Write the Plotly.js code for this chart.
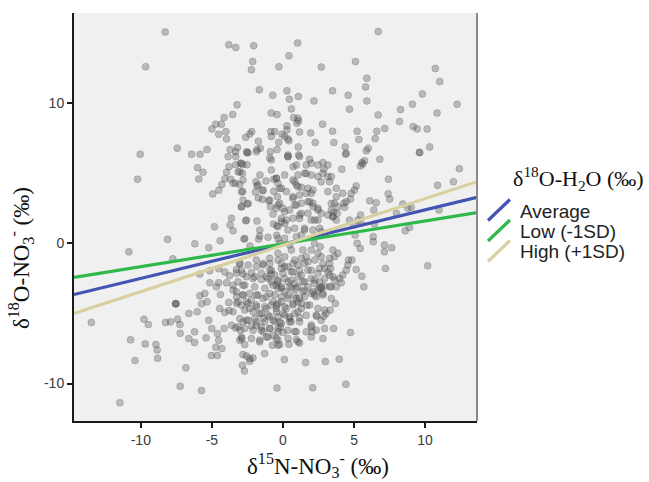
<!DOCTYPE html>
<html><head><meta charset="utf-8">
<script src="https://cdn.plot.ly/plotly-3.0.1.min.js"></script>
<style>html,body{margin:0;padding:0;background:#fff}</style>
</head><body><div id="chart" style="width:649px;height:482px"></div>
<script>
// d15N-NO3 (x), d18O-NO3 (y) observations, grouped by region of the plot
const ptsTopLeft = [[-8.29,15.07],[-9.66,12.6],[-3.81,14.16],[-3.32,13.97],[-2.06,14.1],[-2.13,12.97],[-2.22,12.38],[-0.28,12.6],[-1.66,10.95],[-0.72,10.57],[-3.23,9.88],[-3.53,9.19],[-4.14,8.97],[-0.82,9.29],[-0.42,9.19],[-4.73,8.5],[-4.33,8.5],[-5.0,8.16],[-4.02,7.97],[-4.52,7.78],[-2.2,7.97],[-2.34,7.8],[-2.62,7.57],[-3.97,7.45],[-0.86,7.97],[-0.82,7.62],[-1.73,7.29],[-7.44,6.79],[-10.04,6.36],[-6.43,6.36],[-5.83,6.36],[-5.34,6.69],[-3.72,6.69],[-3.2,6.83],[-3.34,6.54],[-2.55,6.54],[-1.83,6.69],[-1.59,6.79],[-0.42,6.69]];
const ptsTopRight = [[6.7,15.11],[1.03,14.29],[0.42,13.38],[2.7,12.57],[5.1,12.97],[10.72,12.47],[11.03,11.54],[5.9,11.78],[5.81,11.16],[0.28,10.88],[1.08,10.47],[0.45,10.28],[3.49,10.88],[4.59,10.57],[2.18,10.16],[5.9,10.16],[9.81,10.66],[12.25,9.93],[9.11,9.93],[10.84,9.29],[8.27,9.54],[4.68,9.57],[6.7,9.16],[0.59,9.59],[0.75,8.97],[1.05,8.93],[0.98,8.57],[1.1,8.74],[0.28,8.38],[0.28,8.09],[2.79,8.5],[8.2,8.69],[9.16,8.33],[9.44,8.16],[10.14,8.16],[7.16,8.19],[6.6,8.0],[5.22,8.0],[3.49,8.0],[1.95,7.88],[1.17,7.95],[-0.07,7.78],[0.12,7.62],[0.35,7.45],[-0.3,7.21],[0.42,7.31],[-0.58,7.97],[5.34,7.4],[6.49,7.47],[2.27,7.19],[3.58,7.19],[1.08,6.88],[4.38,6.88],[6.0,6.79],[10.32,6.88],[9.6,6.5],[4.45,6.43],[0.35,6.3],[1.1,6.3]];
const ptsMidLeft = [[-10.23,4.57],[-10.84,-0.6],[-8.12,0.29],[-7.75,-1.1],[-6.2,-0.03],[-5.22,-0.31],[-4.42,0.19],[-4.82,1.19],[-6.01,5.4],[-5.62,5.07],[-5.92,4.59],[-4.94,3.52],[-4.52,3.79],[-4.3,4.19],[-4.09,4.61],[-3.97,5.07],[-3.79,5.47],[-3.32,5.61],[-2.99,5.71],[-2.83,5.61],[-2.53,5.61],[-3.86,6.19],[-3.32,6.19],[-2.53,6.47],[-3.67,4.57],[-3.51,4.29],[-3.04,4.19],[-3.34,4.29],[-3.04,5.09],[-2.85,5.0],[-2.83,3.69],[-2.81,3.09],[-2.5,2.81],[-2.92,2.61],[-3.62,1.79],[-3.72,1.31],[-3.51,0.9],[-2.62,1.61],[-1.83,1.59],[-2.74,0.31],[-1.71,0.31],[-2.32,-0.19],[-1.64,0.52],[-1.05,0.43],[-1.94,3.66],[-1.43,3.76],[-1.73,3.24],[-1.45,3.14],[-1.83,4.09],[-1.19,4.45],[-0.65,3.71],[-1.0,3.04],[-0.88,2.61],[-0.46,2.5],[-0.7,2.09],[-0.67,1.38],[-0.42,1.26],[-0.44,0.57],[-0.81,5.95],[-0.93,6.09],[-0.65,4.57],[-1.62,4.88],[-1.9,4.4],[-1.86,6.54],[-0.89,6.54],[-5.85,-2.19],[-5.15,-1.95],[-4.52,-1.81],[-4.09,-2.05],[-3.76,-2.31],[-3.27,-2.14],[-2.81,-2.19],[-5.15,-2.81],[-4.52,-2.81],[-3.97,-2.81],[-3.51,-2.98],[-2.81,-2.98],[-2.22,-2.1],[-1.99,-2.38],[-1.52,-2.57],[-1.17,-2.38],[-0.82,-2.19],[-0.82,-2.74],[-0.46,-2.98],[-0.93,-1.91],[-1.87,-1.19],[-1.4,-1.55],[-0.93,-1.43],[-3.04,-1.43],[-3.27,-1.86]];
const ptsMidRight = [[4.4,6.36],[5.86,6.61],[9.62,6.47],[6.81,6.0],[5.55,5.76],[5.74,5.9],[5.44,5.52],[5.62,5.66],[4.14,5.29],[12.41,5.33],[7.42,4.57],[11.99,4.4],[10.88,4.14],[5.15,4.09],[5.03,3.81],[4.8,3.57],[4.75,3.16],[4.45,2.97],[4.28,2.86],[4.33,2.57],[7.4,3.54],[7.51,3.16],[6.11,3.04],[6.56,2.9],[6.39,2.38],[8.43,2.81],[7.98,2.14],[8.78,2.5],[9.02,2.57],[10.98,2.38],[3.86,2.61],[3.82,2.14],[3.56,2.21],[3.75,1.66],[3.51,1.9],[4.68,1.66],[5.27,1.66],[5.46,2.02],[4.96,1.31],[5.5,1.43],[6.44,1.38],[8.6,0.9],[8.9,1.14],[5.08,0.59],[5.22,0.0],[5.44,-0.36],[6.35,0.47],[6.35,0.12],[7.14,-0.12],[7.65,-0.31],[7.14,-0.6],[7.21,-1.79],[10.18,-1.6],[5.15,-1.86],[5.55,-2.34],[5.69,-3.1],[4.61,-1.19],[4.85,-1.19],[4.56,-1.55],[4.45,-1.91],[4.21,-2.26],[3.98,-2.5],[4.1,-2.81],[3.63,-2.62],[3.75,-3.1],[2.93,-3.05],[2.58,-2.74],[3.28,-1.43],[3.35,-1.79],[3.86,-0.71],[3.63,-0.95],[3.51,-0.48],[2.62,-0.24],[2.46,-0.71],[2.69,-0.95],[1.99,-0.48],[2.22,0.0],[1.64,-0.95],[1.4,-0.48],[0.35,6.19],[1.17,6.19],[1.87,6.0],[0.94,5.59],[1.64,5.59],[2.46,5.59],[2.81,5.76],[2.88,5.29],[2.81,5.0],[3.16,4.76],[3.28,4.4],[2.46,4.76],[1.99,4.88],[1.52,5.0],[1.05,4.88],[0.7,4.52],[0.94,4.16],[1.29,4.0],[1.76,3.93],[2.11,3.81],[1.64,3.57],[1.17,3.45],[0.7,3.33],[0.24,3.69],[-0.11,3.93],[-0.35,4.29],[-0.46,4.64],[0.12,4.88],[3.16,3.69],[3.75,3.93],[3.75,3.33],[4.21,3.57],[3.63,2.86],[3.4,2.38],[3.16,2.02],[2.7,2.14],[2.46,2.5],[2.11,2.86],[1.76,2.97],[1.29,2.86],[0.82,2.74],[0.47,2.38],[0.0,2.5],[-0.23,2.86],[-0.39,3.33],[1.76,2.14],[1.17,2.02],[0.7,1.79],[0.24,1.66],[-0.11,1.54],[1.99,1.66],[2.46,1.66],[2.11,0.95],[1.52,0.95],[0.82,1.07],[0.35,0.95],[-0.35,1.19],[2.58,1.07],[2.93,0.71],[0.94,0.47],[0.12,0.36],[-0.23,0.0],[0.47,-0.12],[-0.35,-0.71],[0.12,-0.95],[0.59,-0.48],[0.82,-1.19],[-0.11,-1.43],[0.35,-1.67],[1.05,-1.55],[1.52,-1.43],[1.76,-1.91],[1.29,-2.26],[0.7,-2.02],[0.0,-2.14],[-0.35,-2.62],[0.35,-2.74],[0.82,-2.86],[1.4,-2.74],[1.99,-2.5],[2.22,-2.86],[2.46,-2.14],[2.93,-1.79],[3.28,-2.26],[2.7,-3.1],[1.76,-3.1],[1.05,-3.1],[-0.11,-3.1]];
const ptsLowLeft = [[-13.48,-5.64],[-9.78,-5.41],[-9.47,-5.79],[-10.72,-6.88],[-10.41,-8.36],[-9.69,-7.17],[-8.94,-7.21],[-8.85,-7.6],[-8.82,-8.19],[-11.47,-11.36],[-8.26,-5.64],[-7.91,-5.6],[-7.42,-5.41],[-7.25,-5.79],[-7.23,-6.41],[-6.62,-5.0],[-6.04,-4.88],[-6.62,-6.79],[-6.22,-6.31],[-6.22,-7.07],[-6.83,-8.88],[-7.23,-10.19],[-5.73,-10.5],[-5.85,-3.74],[-5.5,-3.57],[-5.73,-4.31],[-5.34,-4.17],[-5.22,-5.48],[-5.01,-6.07],[-5.41,-6.74],[-4.61,-6.43],[-4.52,-6.91],[-4.73,-7.41],[-4.3,-7.5],[-5.03,-8.0],[-4.61,-8.0],[-4.14,-6.07],[-4.45,-4.64],[-4.09,-4.93],[-3.79,-4.79],[-3.51,-4.88],[-4.4,-3.64],[-3.81,-4.21],[-3.27,-3.81],[-2.81,-3.69],[-3.51,-3.33],[-4.68,-3.1],[-3.62,-5.84],[-3.34,-6.03],[-2.99,-6.19],[-2.81,-5.6],[-2.57,-5.48],[-2.22,-5.89],[-1.87,-5.84],[-1.52,-5.96],[-3.04,-6.91],[-2.69,-7.21],[-2.9,-6.79],[-1.64,-7.03],[-1.29,-7.86],[-2.81,-7.93],[-2.57,-8.03],[-2.34,-8.21],[-2.11,-8.17],[-2.34,-8.41],[-2.85,-8.69],[-2.71,-9.1],[-0.74,-7.26],[-0.42,-10.31],[-2.57,-4.17],[-2.22,-4.05],[-1.87,-3.69],[-1.4,-3.93],[-0.93,-3.57],[-0.7,-4.17],[-0.46,-4.64],[-1.17,-4.64],[-1.64,-5.0],[-1.99,-5.36],[-1.4,-5.36],[-0.93,-5.24],[-0.58,-5.6],[-0.93,-6.07],[-1.4,-6.31],[-1.17,-6.67],[-0.7,-6.55],[-0.35,-6.07],[-2.34,-4.64],[-2.92,-4.41],[-3.27,-4.29],[-1.87,-4.53],[-0.46,-6.79],[-0.35,-7.26]];
const ptsLowRight = [[3.4,-3.1],[2.7,-3.21],[2.46,-3.33],[1.99,-3.57],[2.34,-3.81],[2.81,-3.57],[1.4,-3.45],[3.68,-4.29],[2.93,-4.76],[3.33,-4.76],[2.88,-5.19],[2.37,-5.19],[1.69,-4.41],[1.17,-5.31],[0.59,-5.6],[1.99,-5.96],[2.06,-6.31],[3.56,-6.07],[4.75,-6.36],[0.82,-6.29],[0.0,-6.36],[-0.18,-5.96],[-0.23,-5.6],[0.94,-6.86],[1.17,-7.1],[0.42,-7.19],[-0.23,-7.21],[0.1,-8.29],[1.59,-8.5],[2.98,-8.43],[3.96,-8.26],[2.09,-10.29],[4.43,-10.05],[-0.35,-3.21],[0.12,-3.45],[0.59,-3.21],[0.82,-3.69],[0.35,-3.93],[-0.11,-4.17],[-0.46,-4.41],[0.24,-4.64],[0.7,-4.29],[1.05,-4.17],[1.29,-4.64],[0.82,-5.0],[0.12,-5.12],[-0.35,-5.24],[0.47,-5.36],[1.17,-3.93]];
const ptsCore = [[-3.04,-1.43],[-2.45,-1.55],[-1.87,-1.67],[-1.4,-1.43],[-0.93,-1.07],[-0.35,-1.19],[0.12,-1.67],[0.71,-1.43],[1.29,-1.07],[1.76,-1.31],[2.23,-1.19],[2.81,-1.43],[3.28,-1.07],[-0.82,-1.91],[-0.11,-1.79],[0.59,-2.02],[1.17,-1.91],[1.99,-1.91],[2.58,-1.79],[3.16,-2.02],[-2.92,-1.91],[-2.57,-2.38],[-2.1,-2.5],[-1.52,-2.14],[-1.05,-2.5],[-0.58,-2.26],[-0.35,-2.74],[0.12,-2.5],[0.59,-2.62],[1.06,-2.38],[1.52,-2.74],[2.23,-2.62],[2.93,-2.5],[3.51,-2.38],[-3.16,-2.74],[-2.69,-2.98],[-1.99,-3.1],[-1.28,-3.21],[-0.7,-2.98],[-0.11,-3.21],[0.47,-3.1],[0.94,-3.21],[1.52,-3.33],[2.11,-3.45],[2.58,-3.21],[3.28,-3.1],[-3.27,-3.45],[-2.81,-3.69],[-2.34,-3.57],[-1.75,-3.69],[-1.17,-3.81],[-0.58,-3.69],[-0.11,-3.81],[0.35,-3.69],[0.94,-3.93],[1.52,-3.81],[2.23,-3.69],[2.81,-3.69],[3.4,-3.93],[-3.16,-4.17],[-2.45,-4.29],[-1.87,-4.4],[-1.28,-4.52],[-0.82,-4.4],[-0.35,-4.29],[0.12,-4.52],[0.71,-4.4],[1.29,-4.29],[1.88,-4.4],[2.46,-4.64],[-2.69,-4.76],[-2.1,-4.88],[-1.52,-5.0],[-1.05,-5.12],[-0.46,-4.88],[0.0,-5.0],[0.47,-5.24],[1.06,-4.88],[1.64,-5.12],[2.34,-5.12],[3.04,-5.0],[-3.04,-5.36],[-2.45,-5.48],[-1.87,-5.6],[-1.28,-5.6],[-0.7,-5.48],[-0.11,-5.71],[0.47,-5.6],[1.17,-5.6],[1.99,-5.83],[2.69,-5.48],[-3.16,-5.95],[-2.69,-6.07],[-2.1,-6.19],[-1.52,-6.19],[-0.93,-6.07],[-0.35,-6.31],[0.35,-6.19],[0.94,-6.31],[1.64,-6.31],[2.34,-6.19],[2.93,-6.07],[-2.92,-6.67],[-2.22,-6.79],[-1.63,-6.9],[-1.05,-6.67],[-0.35,-6.9],[0.35,-6.79],[1.06,-7.02],[1.99,-6.67],[2.81,-6.79]];
const ptsUpperCore = [[-2.45,6.47],[0.35,6.18],[-2.92,5.71],[-3.16,5.11],[-0.82,5.23],[0.71,5.47],[1.99,5.71],[3.16,5.59],[-2.81,4.52],[-1.75,4.16],[-0.46,4.64],[0.82,4.4],[1.64,4.99],[2.69,4.4],[3.4,4.76],[-2.92,3.68],[-1.4,3.8],[-0.23,3.92],[1.06,4.04],[1.99,3.57],[-2.45,2.85],[-0.93,3.09],[0.71,3.21],[1.88,2.97],[-2.92,2.61],[-0.35,2.73],[0.94,2.73],[2.11,2.61],[3.4,2.85],[0.12,2.26],[1.29,2.14],[2.46,2.38],[-2.57,1.66],[-0.11,1.78],[1.17,1.78],[2.23,1.66],[3.51,1.9],[0.12,1.42],[1.52,1.07],[-1.63,0.95],[-2.69,0.35],[-0.35,0.35],[1.29,0.59],[2.69,0.83]];
const ptsRepeated = [[-7.54,-4.31],[-7.54,-4.31],[-7.54,-4.31]];

// Fitted relationship for each d18O-H2O scenario (end points of the fitted lines)
const fitX = [-14.7, 13.65];
const fitAverage = [-3.65, 3.29];
const fitLow = [-2.43, 2.19];
const fitHigh = [-5.0, 4.4];
const seriesNames = ['Average', 'Low (-1SD)', 'High (+1SD)'];
const seriesColors = ['#4354b2', '#2fb94a', '#d8d0a0'];

const xTicks = [-10, -5, 0, 5, 10];
const yTicks = [-10, 0, 10];

const allPts = [].concat(ptsTopLeft, ptsTopRight, ptsMidLeft, ptsMidRight, ptsLowLeft, ptsLowRight, ptsCore, ptsUpperCore, ptsRepeated);
const xs = allPts.map(p => p[0]);
const ys = allPts.map(p => p[1]);

const traces = [{
  type: 'scatter', mode: 'markers', x: xs, y: ys, showlegend: false, hoverinfo: 'skip',
  marker: {size: 7, color: 'rgba(80,80,80,0.34)', line: {width: 0.7, color: 'rgba(60,60,60,0.3)'}}
}];
[fitAverage, fitLow, fitHigh].forEach((yy, i) => {
  traces.push({type: 'scatter', mode: 'lines', x: fitX, y: yy, name: seriesNames[i], showlegend: false,
    line: {color: seriesColors[i], width: 3.2}});
});

// plot-area pixel frame
const L = 74, R = 477.5, T = 13, B = 421;
const px = v => (v - L) / (R - L);
const py = v => (B - v) / (B - T);

const serif = 'Liberation Serif, Times New Roman, serif';
const sans = 'Liberation Sans, Arial, sans-serif';

const shapes = [{type: 'line', xref: 'paper', yref: 'paper', x0: 1, x1: 1, y0: 0, y1: 1, line: {color: '#8a8a8a', width: 2}}];
const annotations = [{
  xref: 'paper', yref: 'paper', x: px(512), y: py(178), xanchor: 'left', yanchor: 'middle', showarrow: false,
  text: 'δ<sup>18</sup>O-H<sub>2</sub>O (‰)', font: {family: serif, size: 22, color: '#111'}
}, {
  xref: 'paper', yref: 'paper', x: px(318), y: py(465), xanchor: 'center', yanchor: 'middle', showarrow: false,
  text: 'δ<sup>15</sup>N-NO<sub>3</sub><sup>-</sup> (‰)', font: {family: serif, size: 23, color: '#111'}
}, {
  xref: 'paper', yref: 'paper', x: px(20), y: py(258), xanchor: 'center', yanchor: 'middle', showarrow: false, textangle: -90,
  text: 'δ<sup>18</sup>O-NO<sub>3</sub><sup>-</sup> (‰)', font: {family: serif, size: 23, color: '#111'}
}];
const legRows = [211, 231.5, 252];
seriesNames.forEach((n, i) => {
  const yc = legRows[i];
  shapes.push({type: 'line', xref: 'paper', yref: 'paper', x0: px(488.5), y0: py(yc + 9.5), x1: px(510.5), y1: py(yc - 11.5),
    line: {color: seriesColors[i], width: 3.2}});
  annotations.push({xref: 'paper', yref: 'paper', x: px(519), y: py(yc), xanchor: 'left', yanchor: 'middle', showarrow: false,
    text: n, font: {family: sans, size: 19, color: '#222'}});
});

const layout = {
  width: 649, height: 482,
  margin: {l: L, r: 649 - R, t: T, b: 482 - B, pad: 0},
  paper_bgcolor: '#ffffff', plot_bgcolor: '#f0f0f0',
  showlegend: false,
  xaxis: {
    range: [-14.7, 13.65], tickvals: xTicks, ticktext: xTicks.map(String),
    showgrid: false, zeroline: false, showline: true, linecolor: '#1a1a1a', linewidth: 2,
    ticks: 'outside', ticklen: 5, tickwidth: 2, tickcolor: '#1a1a1a',
    tickfont: {family: sans, size: 14, color: '#3a3a3a'}
  },
  yaxis: {
    range: [-12.67, 16.43], tickvals: yTicks, ticktext: yTicks.map(String),
    showgrid: false, zeroline: false, showline: true, linecolor: '#1a1a1a', linewidth: 2,
    ticks: 'outside', ticklen: 5, tickwidth: 2, tickcolor: '#1a1a1a',
    tickfont: {family: sans, size: 14, color: '#3a3a3a'}
  },
  shapes: shapes,
  annotations: annotations
};

Plotly.newPlot('chart', traces, layout, {displayModeBar: false, staticPlot: true});
</script></body></html>
